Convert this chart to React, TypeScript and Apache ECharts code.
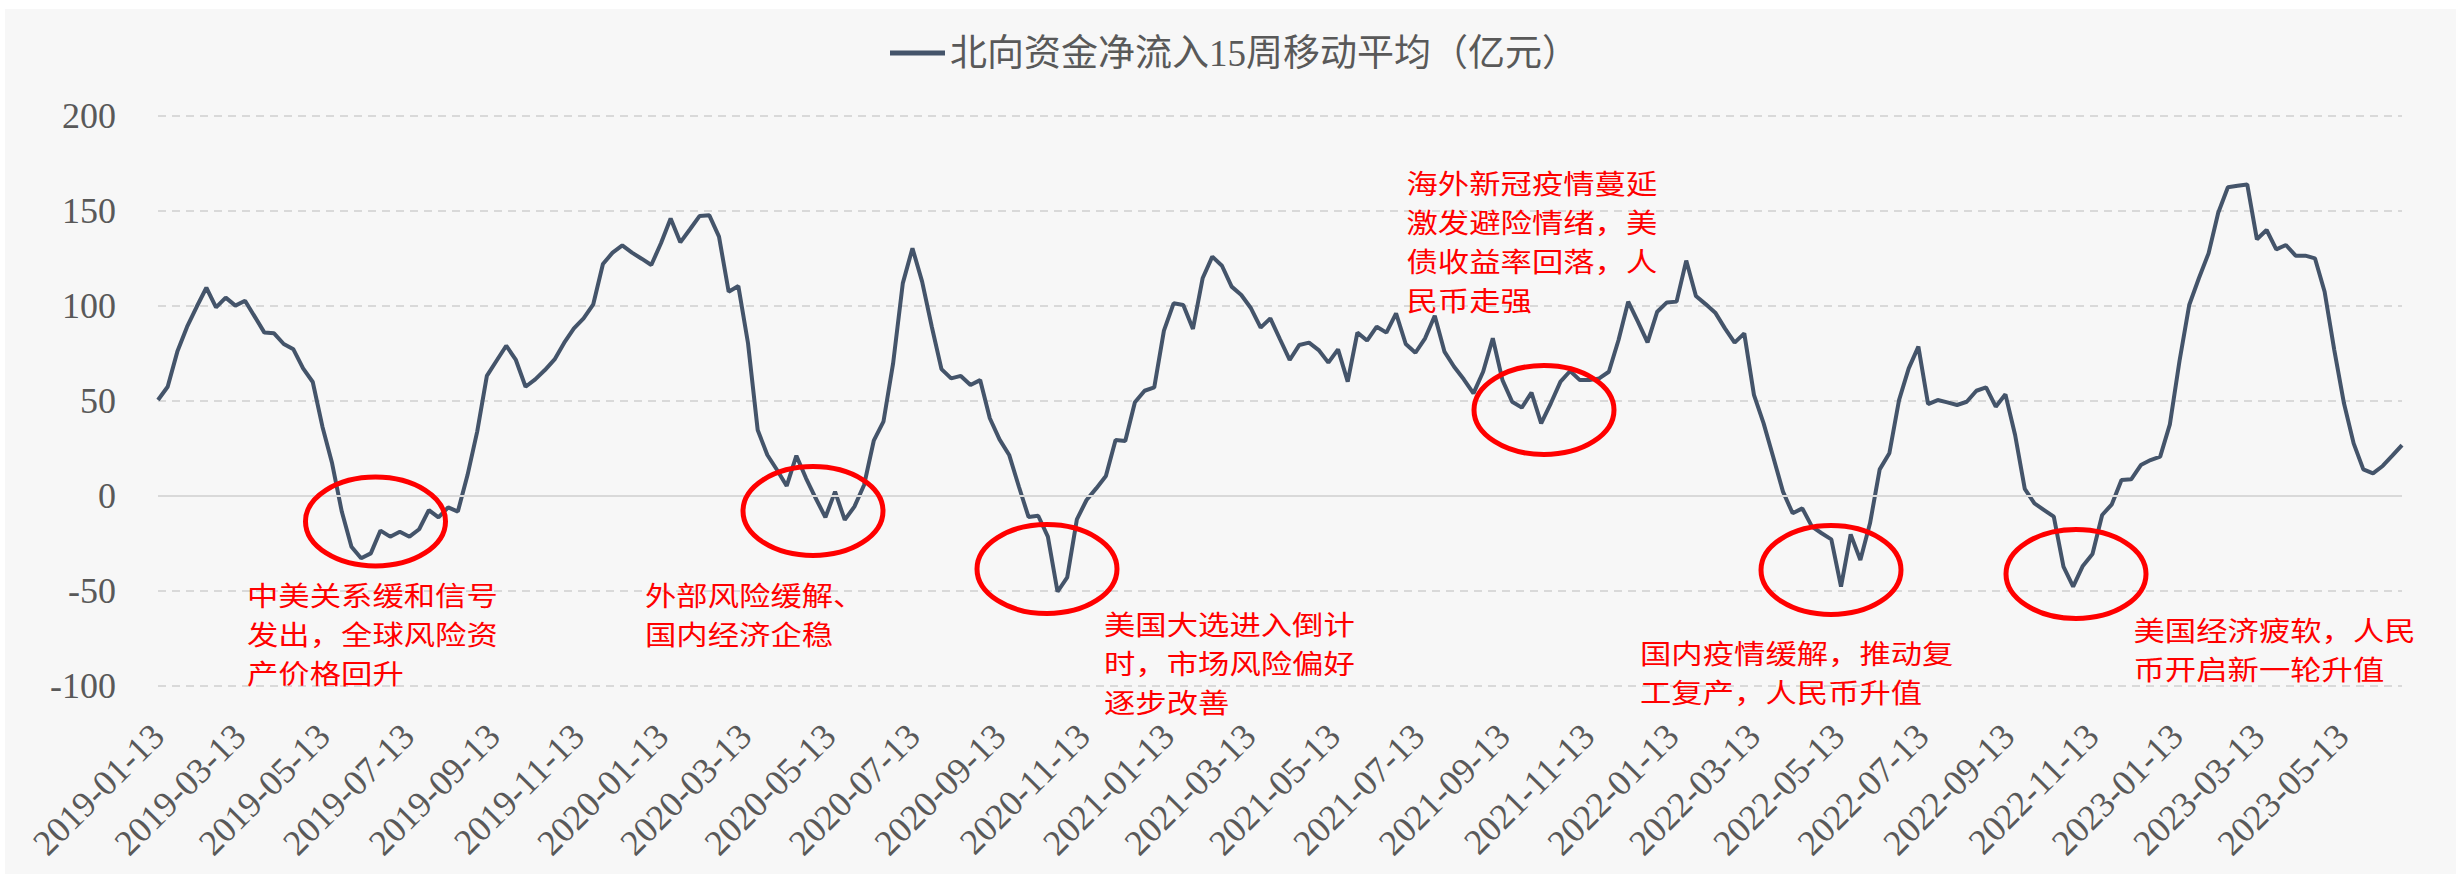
import React, { useEffect, useRef } from 'react';
import * as echarts from 'echarts';

const SERIES_NAME = '北向资金净流入15周移动平均（亿元）';
const START_DATE = '2019-01-13';

// weekly 15-week moving average of northbound net inflow (亿元), one array per calendar year
const v2019 = [
  50.5, 57.5, 76, 89, 99.6, 109.6, 99.3, 104.4, 100.2, 102.8, 94.4, 86, 85.6, 80, 77.2, 67.2, 60,
  36.5, 17.2, -8.2, -26.7, -32.8, -30.2, -18.2, -21.4, -18.8, -21.4, -17.5, -7.4, -11.2, -6, -8.2,
  11, 33.9, 63.2, 71.2, 79.1, 71.6, 57.5, 61.4, 66.3, 71.9, 80.7, 88.2, 93.5, 100.9, 122.1, 128.1,
  131.9, 128.1, 124.9,
];
const v2020 = [
  121.6, 133, 146.1, 133.5, 140.4, 147.4, 147.7, 136.5, 107.5, 110.5, 80.4, 34.7, 21.6, 13.7, 5.3,
  21.2, 9.3, -1.2, -11.2, 2.3, -12.6, -5.6, 5.8, 29.1, 39.1, 69.8, 111.9, 130.4, 112.8, 89.1, 66.8,
  61.9, 63.2, 58.4, 61, 40.9, 29.8, 21.6, 5, -11, -10.4, -21.4, -50.4, -42.8, -12.3, -2.1, 4, 10.5,
  29.5, 28.9, 49.3, 55.4,
];
const v2021 = [
  57.2, 87, 101.4, 100.5, 87.9, 114.6, 126, 121.2, 110.2, 105.8, 98.8, 88.6, 93.5, 82.5, 71.6, 79.5,
  80.7, 76.8, 70.2, 77.2, 60.2, 86, 81.8, 89.1, 86, 96.1, 80, 75.4, 83, 94.9, 76, 68, 61.4, 54, 65.4,
  83, 61, 49.6, 46.5, 54.4, 38.2, 48.8, 60.2, 65.8, 61, 61, 61.9, 65.4, 82.1, 102.3, 91.8, 80.9,
];
const v2022 = [
  97, 101.9, 102.3, 123.9, 105.3, 101, 96.5, 88.2, 80.7, 85.6, 53.2, 38.2, 20.4, 2.3, -9.1, -6.5,
  -16.1, -19.6, -22.8, -47.7, -20.2, -33.7, -14.4, 14, 22.5, 50.5, 67.2, 78.6, 48.4, 50.5, 49.3,
  47.9, 49.6, 55.4, 57.2, 47, 53.5, 32.1, 3.7, -3.9, -7.4, -10.9, -37.2, -47.7, -36.8, -30.5, -10,
  -4.4, 8.4, 8.8, 16.3, 18.9,
];
const v2023 = [
  20.7, 37.7, 71.2, 100.5, 114.6, 127.7, 149.1, 162.5, 163.3, 164, 135.1, 140, 129.8, 132.1, 126.5,
  126.5, 125.1, 107.5, 76.8, 48.8, 27.7, 14, 11.9, 15.8, 21.2, 26.8,
];

const tickLabels = [
  '2019-01-13', '2019-03-13', '2019-05-13', '2019-07-13', '2019-09-13', '2019-11-13',
  '2020-01-13', '2020-03-13', '2020-05-13', '2020-07-13', '2020-09-13', '2020-11-13',
  '2021-01-13', '2021-03-13', '2021-05-13', '2021-07-13', '2021-09-13', '2021-11-13',
  '2022-01-13', '2022-03-13', '2022-05-13', '2022-07-13', '2022-09-13', '2022-11-13',
  '2023-01-13', '2023-03-13', '2023-05-13',
];

const yMin = -100;
const yMax = 200;
const yStep = 50;

const annotationTexts = [
  '中美关系缓和信号\n发出，全球风险资\n产价格回升',
  '外部风险缓解、\n国内经济企稳',
  '美国大选进入倒计\n时，市场风险偏好\n逐步改善',
  '海外新冠疫情蔓延\n激发避险情绪，美\n债收益率回落，人\n民币走强',
  '国内疫情缓解，推动复\n工复产，人民币升值',
  '美国经济疲软，人民\n币开启新一轮升值',
];

// layout (chart pixel coordinates): x, y of first line box top, line height
const annotationPos = [
  [242, 565.5, 39],
  [640, 565.5, 39],
  [1099, 594.6, 39],
  [1401.5, 154, 39],
  [1635, 623.5, 39],
  [2128.5, 600.5, 39],
];
const circlePos = [
  [370.5, 512.5],
  [808, 502],
  [1042, 560],
  [1539, 401],
  [1826, 561],
  [2071, 565],
];

const SERIF = "'Times New Roman', 'Liberation Serif', serif";
const MIXED = "'Times New Roman', 'Liberation Serif', 'Noto Sans CJK SC', serif";
const CJK = "'Noto Sans CJK SC', sans-serif";

function parseDate(s: string): number {
  const [y, m, d] = s.split('-').map(Number);
  return new Date(y, m - 1, d).getTime();
}
function pad(n: number) {
  return n < 10 ? '0' + n : '' + n;
}
function fmt(ts: number): string {
  const d = new Date(ts);
  return d.getFullYear() + '-' + pad(d.getMonth() + 1) + '-' + pad(d.getDate());
}

export default function App() {
  const ref = useRef<HTMLDivElement>(null);
  useEffect(() => {
    if (!ref.current) return;
    const chart = echarts.init(ref.current, null, { renderer: 'svg' });
    const values = [...v2019, ...v2020, ...v2021, ...v2022, ...v2023];
    const start = parseDate(START_DATE);
    const dates: number[] = [];
    const cur = new Date(start);
    for (let i = 0; i < values.length; i++) {
      dates.push(cur.getTime());
      cur.setDate(cur.getDate() + 7);
    }
    const data = values.map((v, i) => [dates[i], v]);
    const tickTs = tickLabels.map(parseDate);

    const graphics: any[] = [];
    circlePos.forEach(([cx, cy]) => {
      graphics.push({
        type: 'ellipse',
        shape: { cx, cy, rx: 70, ry: 44.5 },
        style: { fill: 'none', stroke: '#ff0000', lineWidth: 5 },
        z: 100,
        silent: true,
      });
    });
    annotationTexts.forEach((t, i) => {
      const [x, y, lh] = annotationPos[i];
      graphics.push({
        type: 'text',
        x,
        y,
        scaleX: 1.17,
        z: 100,
        silent: true,
        style: {
          text: t,
          fill: '#ff0000',
          fontSize: 26.8,
          fontFamily: CJK,
          lineHeight: lh,
          verticalAlign: 'top',
          align: 'left',
        },
      });
    });

    chart.setOption({
      animation: false,
      backgroundColor: 'transparent',
      grid: { left: 153, right: 54, top: 107, bottom: 188, containLabel: false },
      legend: {
        data: [{ name: SERIES_NAME, icon: 'rect' }],
        left: 885,
        top: 24,
        padding: 0,
        itemWidth: 55,
        itemHeight: 5,
        textStyle: { fontSize: 37, color: '#595959', fontFamily: MIXED, lineHeight: 40 },
      },
      xAxis: {
        type: 'value',
        min: dates[0],
        max: dates[dates.length - 1],
        scale: true,
        axisLine: { show: false, onZero: false },
        axisTick: { show: false },
        splitLine: { show: false },
        axisLabel: {
          customValues: tickTs,
          rotate: 45,
          margin: 44,
          fontSize: 36,
          color: '#595959',
          fontFamily: SERIF,
          hideOverlap: false,
          formatter: (v: number) => fmt(v),
        },
      },
      yAxis: {
        type: 'value',
        min: yMin,
        max: yMax,
        interval: yStep,
        axisLine: { show: false },
        axisTick: { show: false },
        splitLine: { show: true, lineStyle: { color: '#d9d9d9', type: [8, 6], width: 2 } },
        axisLabel: { fontSize: 36, color: '#595959', fontFamily: SERIF, margin: 42 },
      },
      series: [
        {
          name: SERIES_NAME,
          type: 'line',
          data,
          showSymbol: false,
          symbol: 'none',
          lineStyle: { color: '#44546a', width: 4 },
          itemStyle: { color: '#44546a' },
          markLine: {
            silent: true,
            symbol: 'none',
            label: { show: false },
            lineStyle: { color: '#d9d9d9', type: 'solid', width: 2 },
            data: [{ yAxis: 0 }],
          },
        },
      ],
      graphic: graphics,
    });
    return () => chart.dispose();
  }, []);
  return (
    <div
      ref={ref}
      style={{ position: 'absolute', left: 5, top: 9, width: 2451, height: 865, background: '#f7f7f7' }}
    />
  );
}
